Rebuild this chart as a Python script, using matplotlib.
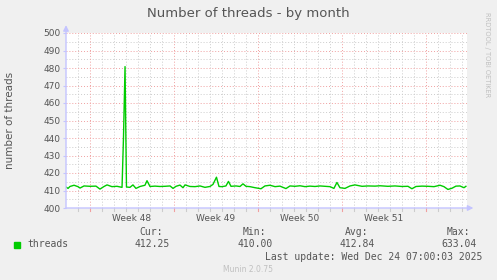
import matplotlib
matplotlib.use("Agg")
import matplotlib.pyplot as plt
import matplotlib.transforms as mtransforms
import numpy as np

# ── Data (days since left edge of window, threads) ────────────────────────────
days = [0, 0.17, 0.33, 0.67, 1.0, 1.17, 1.5, 2.0, 2.5, 2.83, 3.17, 3.42, 3.83,
        4.25, 4.67, 4.79, 4.92, 5.04, 5.33, 5.58, 5.83, 6.17, 6.58, 6.75, 7.0,
        7.42, 7.83, 8.25, 8.67, 8.92, 9.17, 9.5, 9.75, 9.92, 10.33, 10.75,
        11.17, 11.58, 12.0, 12.25, 12.54, 12.75, 13.0, 13.33, 13.54, 13.75,
        14.17, 14.5, 14.75, 15.0, 15.33, 15.75, 16.25, 16.58, 17.0, 17.42,
        17.83, 18.33, 18.67, 19.08, 19.5, 19.92, 20.33, 20.75, 21.17, 21.58,
        22.0, 22.33, 22.58, 22.83, 23.25, 23.67, 24.08, 24.67, 25.17, 25.75,
        26.17, 26.83, 27.42, 28.0, 28.5, 28.83, 29.17, 29.67, 30.17, 30.67,
        31.17, 31.5, 31.83, 32.17, 32.5, 32.83, 33.17, 33.33]
threads = [412, 411.2, 412.3, 413, 412.2, 411.4, 412.6, 412.4, 412.5, 410.8,
           412.3, 413.2, 412.2, 412.4, 411.8, 440, 480.8, 412, 411.8, 413.2,
           411.2, 412.3, 413, 415.6, 412.3, 412.5, 412.3, 412.4, 412.6, 411.2,
           412.4, 413.1, 411.6, 413.2, 412.3, 412.2, 412.6, 411.8, 412.3, 413.5,
           417.6, 412.3, 412.2, 412.6, 415.2, 412.4, 412.6, 412.3, 413.8, 412.4,
           412.2, 411.6, 411.0, 412.6, 413, 412.2, 412.5, 411.1, 412.6, 412.4,
           412.7, 412.2, 412.5, 412.3, 412.6, 412.4, 412.2, 411.2, 414.6, 411.6,
           411.2, 412.6, 413.2, 412.4, 412.6, 412.5, 412.7, 412.4, 412.6, 412.3,
           412.4, 411.0, 412.3, 412.5, 412.4, 412.2, 413.0, 412.2, 410.6, 411.3,
           412.5, 412.6, 411.6, 412.4]

week_pos    = [2, 9, 16, 23, 30]
week_labels = ["Week 48", "Week 49", "Week 50", "Week 51"]
x_max       = 33.42

stat_names  = ["Cur:", "Min:", "Avg:", "Max:"]
stat_values = ["412.25", "410.00", "412.84", "633.04"]

BG      = "#F0F0F0"
TXT     = "#555555"
GREEN   = "#00CC00"
AXISCOL = "#C4C4FF"
MINOR   = "#CCCCCC"
MAJOR   = "#F0A0A0"

fig = plt.figure(figsize=(4.97, 2.80), dpi=100, facecolor=BG)
W, H = 497, 280
ax = fig.add_axes([66 / W, 1 - 208 / H, (467 - 66) / W, (208 - 33) / H])
ax.set_facecolor("white")
for s in ax.spines.values():
    s.set_visible(False)

ax.set_xlim(0, x_max)
ax.set_ylim(400, 500)

# grid: minor grey, major red
dot = (0, (1, 2))
for d in range(1, 34):
    if d not in week_pos:
        ax.axvline(d, color=MINOR, lw=0.7, ls=dot, zorder=1)
for y in np.arange(405, 500, 10):
    ax.axhline(y, color=MINOR, lw=0.7, ls=dot, zorder=1)
for d in week_pos:
    ax.axvline(d, color=MAJOR, lw=0.7, ls=dot, zorder=2)
for y in range(410, 501, 10):
    ax.axhline(y, color=MAJOR, lw=0.7, ls=dot, zorder=2)

ax.plot(days, threads, color=GREEN, lw=1.0, zorder=3)

# small tick marks below the x axis
trans = mtransforms.blended_transform_factory(ax.transData, ax.transAxes)
for d in range(1, 34):
    c = MAJOR if d in week_pos else MINOR
    ax.plot([d, d], [0, -0.018], color=c, lw=0.8, transform=trans,
            clip_on=False, zorder=2)

# ticks
ax.set_yticks(range(400, 501, 10))
ax.tick_params(axis="y", length=2, color=AXISCOL, labelsize=6.5,
               labelcolor=TXT, pad=2)
centers = [(a + b) / 2 for a, b in zip(week_pos[:-1], week_pos[1:])]
ax.set_xticks(centers)
ax.set_xticklabels(week_labels)
ax.tick_params(axis="x", length=0, labelsize=6.5, labelcolor=TXT, pad=4)

# axis lines with arrows
ax.annotate("", xy=(0, 1.045), xytext=(0, 0), xycoords="axes fraction",
            arrowprops=dict(arrowstyle="-|>", color=AXISCOL, lw=1.0,
                            mutation_scale=8, shrinkA=0, shrinkB=0),
            annotation_clip=False, zorder=4)
ax.annotate("", xy=(1.016, 0), xytext=(0, 0), xycoords="axes fraction",
            arrowprops=dict(arrowstyle="-|>", color=AXISCOL, lw=1.0,
                            mutation_scale=8, shrinkA=0, shrinkB=0),
            annotation_clip=False, zorder=4)

# texts
fig.text(248 / W, 1 - 14 / H, "Number of threads - by month", ha="center",
         va="center", fontsize=9.5, color=TXT)
fig.text(10 / W, 1 - 120 / H, "number of threads", rotation=90, ha="center",
         va="center", fontsize=7.5, color=TXT)
fig.text(487 / W, 1 - 55 / H, "RRDTOOL / TOBI OETIKER", rotation=270,
         ha="center", va="center", fontsize=4.8, color="#C0C0C0")

mono = "DejaVu Sans Mono"
fig.patches.append(plt.Rectangle((14 / W, 1 - 248 / H), 6 / W, 6 / H,
                                 transform=fig.transFigure, color=GREEN))
fig.text(27 / W, 1 - 244 / H, "threads", family=mono, fontsize=7,
         color=TXT, va="center")
name_right  = [163, 266, 368, 470]
value_right = [170, 273, 375, 477]
for n, v, xn, xv in zip(stat_names, stat_values, name_right, value_right):
    fig.text(xn / W, 1 - 232 / H, n, family=mono, fontsize=7, color=TXT,
             ha="right", va="center")
    fig.text(xv / W, 1 - 244 / H, v, family=mono, fontsize=7, color=TXT,
             ha="right", va="center")
fig.text(482 / W, 1 - 257 / H, "Last update: Wed Dec 24 07:00:03 2025",
         family=mono, fontsize=7, color=TXT, ha="right", va="center")
fig.text(248 / W, 1 - 269 / H, "Munin 2.0.75", fontsize=5.5,
         color="#C0C0C0", ha="center", va="center")

plt.savefig("out.png", dpi=100, facecolor=BG)
